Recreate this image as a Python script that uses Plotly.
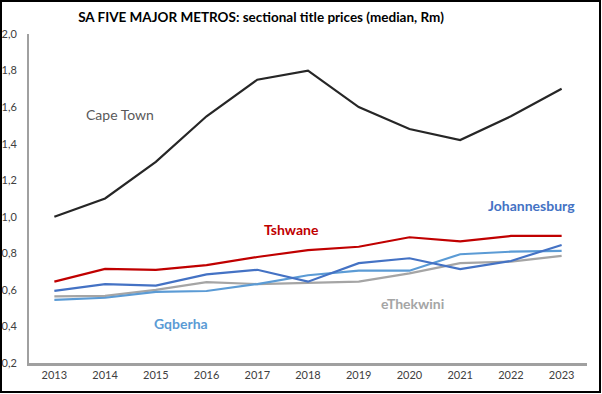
import plotly.graph_objects as go

years = ["2013", "2014", "2015", "2016", "2017", "2018", "2019", "2020", "2021", "2022", "2023"]
cape_town = [1.00, 1.10, 1.30, 1.55, 1.75, 1.80, 1.60, 1.48, 1.42, 1.55, 1.70]
tshwane = [0.645, 0.715, 0.71, 0.735, 0.78, 0.818, 0.836, 0.888, 0.865, 0.895, 0.895]
johannesburg = [0.595, 0.632, 0.623, 0.685, 0.71, 0.645, 0.746, 0.773, 0.714, 0.758, 0.846]
gqeberha = [0.545, 0.557, 0.589, 0.594, 0.632, 0.68, 0.705, 0.705, 0.795, 0.809, 0.813]
ethekwini = [0.565, 0.567, 0.60, 0.642, 0.632, 0.64, 0.645, 0.69, 0.746, 0.755, 0.786]
y_ticks = [0.2, 0.4, 0.6, 0.8, 1.0, 1.2, 1.4, 1.6, 1.8, 2.0]

FONT = "Lato, 'Noto Sans', sans-serif"

series = [
    ("Cape Town", cape_town, "#262626"),
    ("eThekwini", ethekwini, "#A5A5A5"),
    ("Gqberha", gqeberha, "#5B9BD5"),
    ("Johannesburg", johannesburg, "#4472C4"),
    ("Tshwane", tshwane, "#C00000"),
]

fig = go.Figure()
for name, vals, col in series:
    fig.add_trace(go.Scatter(x=years, y=vals, mode="lines", name=name,
                             line=dict(color=col, width=2.2), showlegend=False))

labels = [
    ("Cape Town", 1.30, 1.562, "#595959", False),
    ("Tshwane", 4.67, 0.928, "#C00000", True),
    ("Johannesburg", 9.41, 1.059, "#4472C4", True),
    ("Gqberha", 2.50, 0.414, "#5B9BD5", True),
    ("eThekwini", 7.06, 0.523, "#A5A5A5", True),
]
for text, xi, yv, col, bold in labels:
    fig.add_annotation(x=xi, y=yv, text=("<b>%s</b>" % text) if bold else text,
                       showarrow=False, xref="x", yref="y",
                       font=dict(family=FONT, size=14, color=col))

fig.add_shape(type="rect", xref="paper", yref="paper",
              x0=-28 / 558, x1=1 + 13 / 558, y0=-29 / 329, y1=1 + 33 / 329,
              line=dict(color="#000000", width=2), layer="above")

fig.update_layout(
    width=602, height=394,
    margin=dict(l=29, r=15, t=34, b=31, autoexpand=False),
    paper_bgcolor="white", plot_bgcolor="white",
    separators=", ",
    title=dict(text="<b>SA FIVE MAJOR METROS: sectional title prices (median, Rm)</b>",
               x=261 / 602, xref="container", xanchor="center",
               y=1 - 17 / 394, yref="container", yanchor="middle",
               font=dict(family=FONT, size=13.5, color="#000000"), automargin=False),
    xaxis=dict(type="category", range=[-0.5, 10.5], showgrid=False, automargin=False,
               showline=True, linecolor="#A0A0A0", linewidth=2.5,
               ticks="", tickfont=dict(family=FONT, size=11, color="#404040")),
    yaxis=dict(range=[0.2, 2.0], tickvals=y_ticks, tickformat=".1f", showgrid=False,
               automargin=False,
               showline=True, linecolor="#A0A0A0", linewidth=2, zeroline=False,
               ticks="", ticklabelstandoff=8,
               tickfont=dict(family=FONT, size=11, color="#404040")),
)

fig.write_html("out.html", config={"displayModeBar": False},
               post_script="document.body.style.margin='0';")
